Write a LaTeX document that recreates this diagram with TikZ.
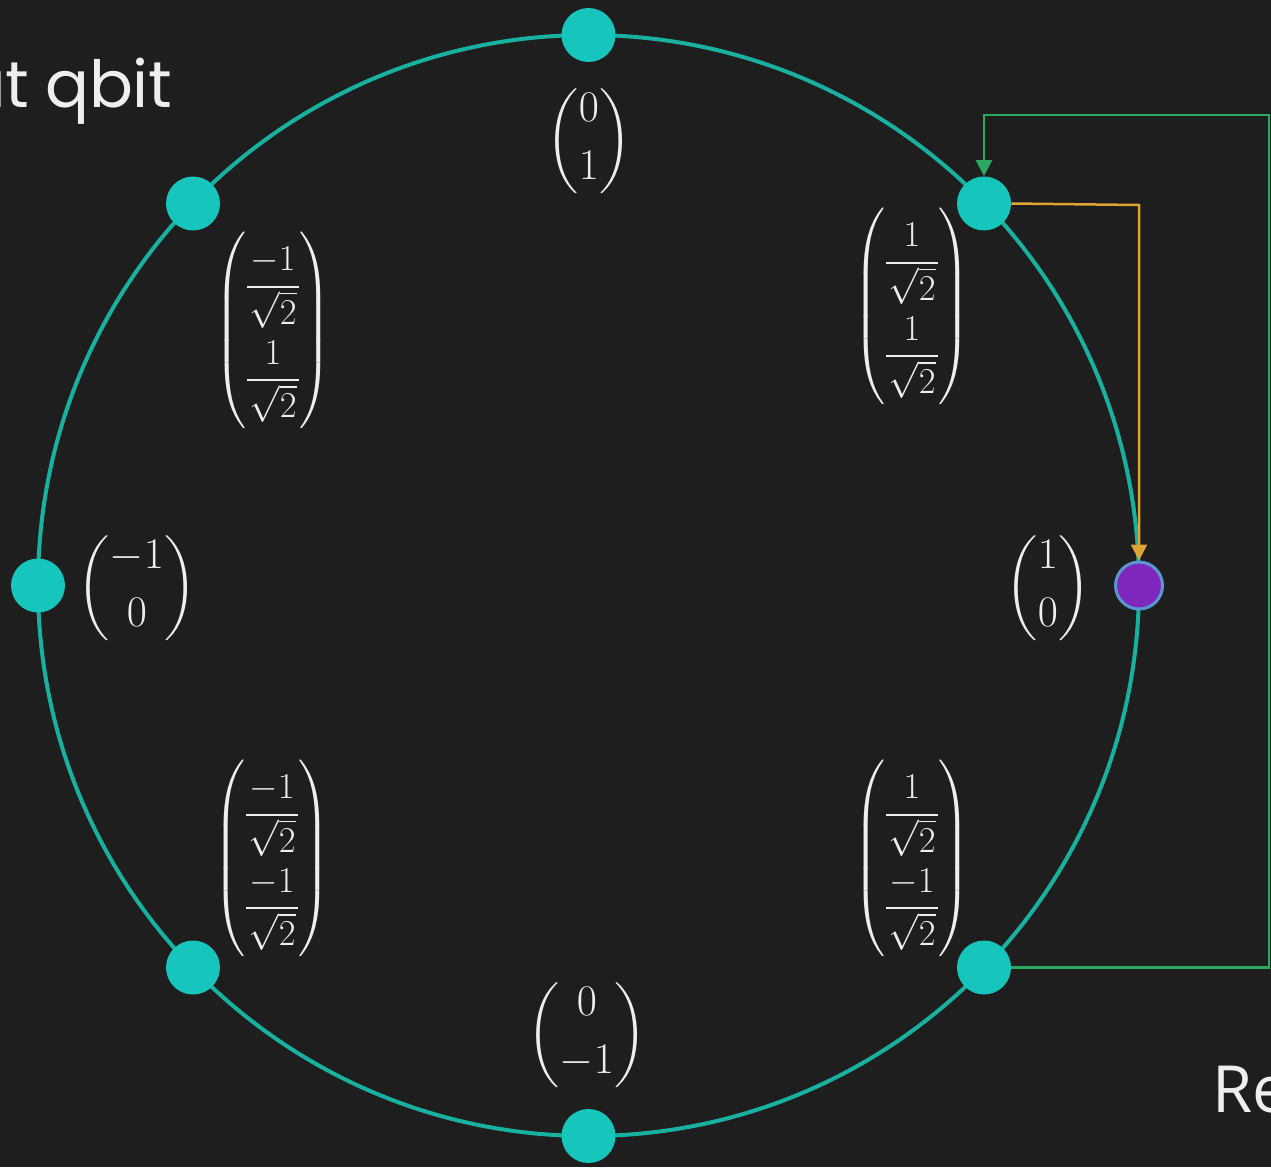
\documentclass[tikz,border=0pt]{standalone}
\usepackage{amsmath}
\usepackage{fontspec}
\newfontfamily\geofont{Poppins}
\newfontfamily\segfont{Open Sans}
\usetikzlibrary{arrows.meta}
\definecolor{bgc}{RGB}{30,30,30}
\definecolor{ringc}{RGB}{24,176,158}
\definecolor{dotc}{RGB}{22,198,188}
\definecolor{greenc}{RGB}{44,168,96}
\definecolor{orangec}{RGB}{222,164,52}
\definecolor{purplec}{RGB}{128,40,190}
\definecolor{rimc}{RGB}{90,150,210}
\definecolor{txtc}{RGB}{238,238,238}
\tikzset{
  dotnode/.style={circle,fill=dotc,inner sep=0pt,minimum size=1.08cm},
  purplenode/.style={circle,fill=purplec,draw=rimc,line width=0.06cm,inner sep=0pt,minimum size=0.94cm},
  vec/.style={text=txtc,inner sep=0pt,font=\fontsize{24}{28}\selectfont},
  fvec/.style={text=txtc,inner sep=0pt,font=\fontsize{22.5}{27}\selectfont},
  conn/.style={line width=0.05cm,-{Triangle[length=0.32cm,width=0.32cm]}},
}
\newcommand{\frm}[1]{\vcenter{\offinterlineskip\halign{\hfil\kern1.5pt$##$\kern1.5pt\hfil\cr #1\strut\cr\noalign{\kern0.5pt\hrule height 1.1pt\kern2pt}\sqrt{2}\cr}}}
\begin{document}
\begin{tikzpicture}[x=0.02cm,y=-0.02cm]
\fill[bgc] (0,0) rectangle (1271,1167);
\useasboundingbox (0,0) rectangle (1271,1167);
\coordinate (C) at (588.5,585.5);
\draw[ringc,line width=0.08cm] (C) circle[radius=550.5];
% dots
\node[dotnode] (top) at (588.5,35) {};
\node[dotnode] (bot) at (588.5,1136) {};
\node[dotnode] (lft) at (38,585.5) {};
\node[purplenode] (rgt) at (1139,585.5) {};
\node[dotnode] (tr) at (984,203.5) {};
\node[dotnode] (tl) at (193,203.5) {};
\node[dotnode] (br) at (984,967.5) {};
\node[dotnode] (bl) at (193,967.5) {};
% vectors
\node[vec] (vtop) at (589,141) {$\begin{pmatrix}0\\[5pt]1\end{pmatrix}$};
\node[vec] (vbot) at (587,1035) {$\begin{pmatrix}0\\[5pt]-1\end{pmatrix}$};
\node[vec] (vlft) at (137,588) {$\begin{pmatrix}-1\\[5pt]0\end{pmatrix}$};
\node[vec] (vrgt) at (1048,588) {$\begin{pmatrix}1\\[5pt]0\end{pmatrix}$};
\node[fvec] (vtr) at (912,306) {$\begin{pmatrix}\frm{1}\\[14pt]\frm{1}\end{pmatrix}$};
\node[fvec] (vtl) at (273,330) {$\begin{pmatrix}\frm{-1}\\[14pt]\frm{1}\end{pmatrix}$};
\node[fvec] (vbl) at (272,858) {$\begin{pmatrix}\frm{-1}\\[14pt]\frm{-1}\end{pmatrix}$};
\node[fvec] (vbr) at (912,858) {$\begin{pmatrix}\frm{1}\\[14pt]\frm{-1}\end{pmatrix}$};
% connectors
\coordinate (g1) at (1269,967.5);
\coordinate (g2) at (1269,115);
\coordinate (g3) at (984,115);
\draw[conn,greenc] (br.east) -- (g1) -- (g2) -- (g3) -- (tr.north);
\coordinate (o1) at (1139,205);
\draw[conn,orangec] (tr.east) -- (o1) -- (rgt.north);
% labels
\node[text=txtc,font=\geofont\fontsize{37}{40}\selectfont,anchor=base east,inner sep=0pt] (inlbl) at (173,107) {ut\hspace{0.24em}qbit};
\node[text=txtc,font=\segfont\fontsize{37}{40}\selectfont,anchor=base west,inner sep=0pt] (reslbl) at (1212,1112) {Re};
\end{tikzpicture}
\end{document}
